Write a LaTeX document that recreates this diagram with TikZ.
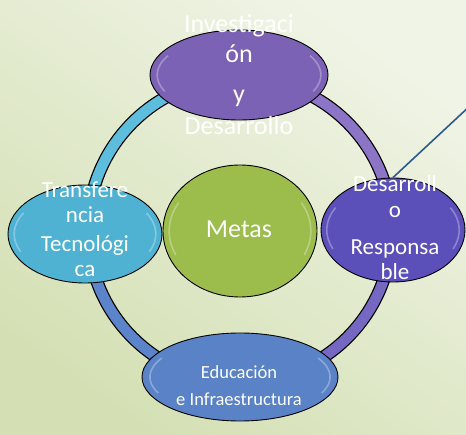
\documentclass[tikz,border=0pt]{standalone}
\usepackage{fontspec}
\setmainfont{Carlito}
\usetikzlibrary{shapes.geometric}
\definecolor{bgA}{HTML}{D4E0B4}
\definecolor{bgB}{HTML}{F0F4E6}
\definecolor{cTop}{HTML}{7C62B4}
\definecolor{cRight}{HTML}{5B50BA}
\definecolor{cLeft}{HTML}{4FB2D2}
\definecolor{cBot}{HTML}{5A82C6}
\definecolor{cMid}{HTML}{9CBC4C}
\definecolor{rTL}{HTML}{5CBEDC}
\definecolor{rTR}{HTML}{8C74C6}
\definecolor{rBR}{HTML}{7668C2}
\definecolor{rBL}{HTML}{5C84CA}
\definecolor{lineBlue}{HTML}{2C5A8C}
\newcommand\glossy[4]{%
  \draw[white,opacity=.3,line width=1.6pt]
    (#1,#2) ++(150:{#3*0.92} and {#4*0.86}) arc[start angle=150,end angle=205,x radius={#3*0.92},y radius={#4*0.86}];
  \draw[white,opacity=.3,line width=1.6pt]
    (#1,#2) ++(-25:{#3*0.92} and {#4*0.86}) arc[start angle=-25,end angle=30,x radius={#3*0.92},y radius={#4*0.86}];}
\tikzset{
  bub/.style={ellipse,draw=black,line width=0.9pt,inner sep=0pt},
  big/.style={text=white,font=\fontsize{26}{30}\selectfont,anchor=base,inner sep=0pt},
  mid/.style={text=white,font=\fontsize{23}{27}\selectfont,anchor=base,inner sep=0pt},
  small/.style={text=white,font=\fontsize{18.5}{22}\selectfont,anchor=base,inner sep=0pt},
}
\begin{document}
\begin{tikzpicture}[x=1pt,y=1pt]
\useasboundingbox (0,0) rectangle (466,434);
\shade[top color=bgB,bottom color=bgA,shading angle=-35] (0,0) rectangle (466,434);
% ring
\draw[black,line width=13pt] (240,204) circle[radius=152];
\draw[rTR,line width=10.5pt] (240,204) ++(90:152) arc[start angle=90,end angle=0,radius=152];
\draw[rBR,line width=10.5pt] (240,204) ++(0:152) arc[start angle=0,end angle=-90,radius=152];
\draw[rBL,line width=10.5pt] (240,204) ++(-90:152) arc[start angle=-90,end angle=-180,radius=152];
\draw[rTL,line width=10.5pt] (240,204) ++(180:152) arc[start angle=180,end angle=90,radius=152];
% bubbles
\node[bub,fill=cTop,minimum width=178pt,minimum height=90pt] (top) at (239,359) {};
\node[bub,fill=cRight,minimum width=144pt,minimum height=104pt] (right) at (393,204) {};
\node[bub,fill=cLeft,minimum width=154pt,minimum height=98pt] (left) at (85,200) {};
\node[bub,fill=cBot,minimum width=196pt,minimum height=88pt] (bot) at (240,57) {};
\node[bub,fill=cMid,minimum width=154pt,minimum height=132pt] (mid) at (240,203) {};
\glossy{239}{359}{89}{45}
\glossy{393}{204}{72}{52}
\glossy{85}{200}{77}{49}
\glossy{240}{57}{98}{44}
\glossy{240}{203}{77}{66}
% connector
\coordinate (lineend) at (472,330);
\draw[lineBlue,line width=1.6pt] (right.north) -- (lineend);
% texts
\node[big] (t1) at (239,401) {Investigaci};
\node[big] (t2) at (239,371) {ón};
\node[big] (t3) at (239,331) {y};
\node[big] (t4) at (239,299) {Desarrollo};
\node[mid] (r1) at (395,242) {Desarroll};
\node[mid] (r2) at (395,216) {o};
\node[mid] (r3) at (395,179) {Responsa};
\node[mid] (r4) at (395,154) {ble};
\node[mid] (l1) at (85,236) {Transfere};
\node[mid] (l2) at (85,211) {ncia};
\node[mid] (l3) at (85,182) {Tecnológi};
\node[mid] (l4) at (85,157) {ca};
\node[big] (m1) at (239,196) {Metas};
\node[small] (b1) at (239,56) {Educación};
\node[small] (b2) at (239,29) {e Infraestructura};
\end{tikzpicture}
\end{document}
